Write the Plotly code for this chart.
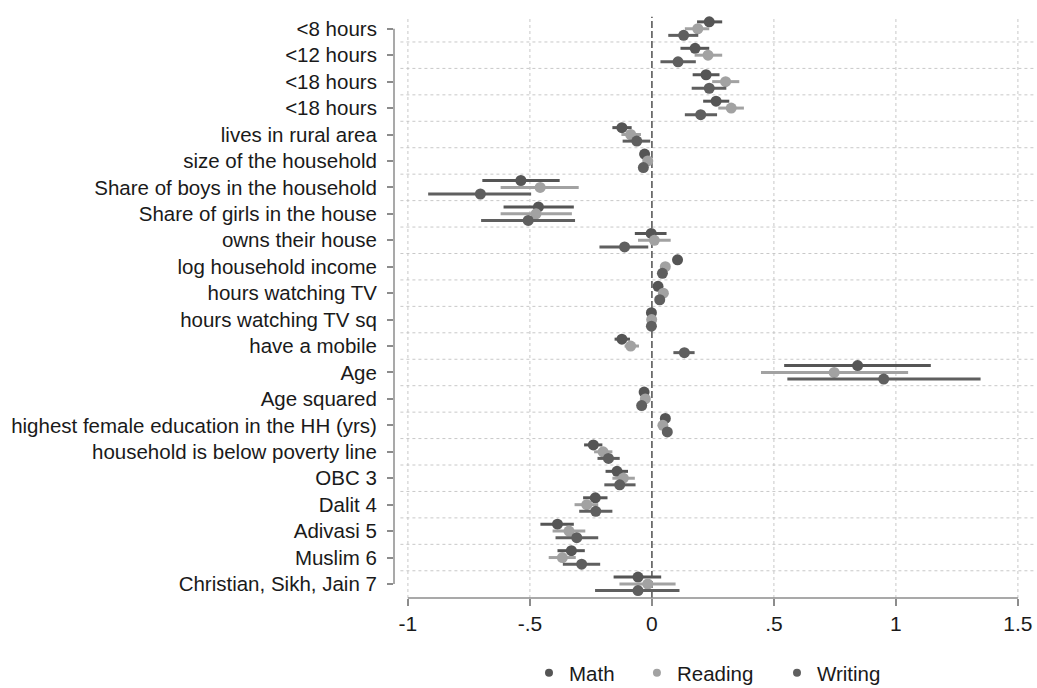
import plotly.graph_objects as go

categories = ["<8 hours", "<12 hours", "<18 hours", "<18 hours", "lives in rural area",
              "size of the household", "Share of boys in the household",
              "Share of girls in the house", "owns their house", "log household income",
              "hours watching TV", "hours watching TV sq", "have a mobile", "Age",
              "Age squared", "highest female education in the HH (yrs)",
              "household is below poverty line", "OBC 3", "Dalit 4", "Adivasi 5",
              "Muslim 6", "Christian, Sikh, Jain 7"]

math_coef = [0.235, 0.177, 0.222, 0.263, -0.123, -0.030, -0.537, -0.465, -0.003, 0.105,
             0.025, -0.002, -0.123, 0.843, -0.032, 0.055, -0.240, -0.143, -0.232, -0.387,
             -0.330, -0.057]
math_lo = [0.185, 0.117, 0.167, 0.210, -0.162, -0.040, -0.695, -0.608, -0.070, 0.095,
           0.015, -0.006, -0.153, 0.542, -0.042, 0.045, -0.278, -0.190, -0.282, -0.457,
           -0.387, -0.157]
math_hi = [0.288, 0.235, 0.277, 0.317, -0.083, -0.020, -0.378, -0.320, 0.060, 0.115,
           0.035, 0.002, -0.090, 1.143, -0.022, 0.065, -0.203, -0.098, -0.182, -0.320,
           -0.275, 0.038]

read_coef = [0.188, 0.230, 0.302, 0.325, -0.087, -0.017, -0.458, -0.475, 0.010, 0.055,
             0.047, -0.001, -0.087, 0.747, -0.027, 0.045, -0.200, -0.117, -0.267, -0.340,
             -0.367, -0.017]
read_lo = [0.135, 0.175, 0.247, 0.272, -0.125, -0.027, -0.620, -0.620, -0.057, 0.045,
           0.037, -0.005, -0.112, 0.447, -0.037, 0.035, -0.237, -0.162, -0.317, -0.407,
           -0.423, -0.133]
read_hi = [0.235, 0.288, 0.358, 0.377, -0.045, -0.007, -0.300, -0.328, 0.077, 0.065,
           0.057, 0.003, -0.053, 1.050, -0.017, 0.055, -0.162, -0.070, -0.220, -0.273,
           -0.312, 0.097]

write_coef = [0.130, 0.107, 0.235, 0.200, -0.062, -0.035, -0.703, -0.507, -0.112, 0.043,
              0.032, -0.002, 0.133, 0.950, -0.042, 0.063, -0.178, -0.132, -0.230, -0.308,
              -0.288, -0.057]
write_lo = [0.067, 0.035, 0.163, 0.135, -0.120, -0.045, -0.917, -0.700, -0.215, 0.033,
            0.022, -0.006, 0.088, 0.555, -0.052, 0.053, -0.223, -0.195, -0.298, -0.395,
            -0.365, -0.233]
write_hi = [0.190, 0.180, 0.305, 0.267, -0.007, -0.025, -0.495, -0.315, -0.015, 0.053,
            0.042, 0.002, 0.175, 1.347, -0.032, 0.073, -0.132, -0.067, -0.162, -0.220,
            -0.212, 0.113]

x_ticks = [-1, -0.5, 0, 0.5, 1, 1.5]
x_tick_labels = ["-1", "-.5", "0", ".5", "1", "1.5"]

series = [
    ("Math", math_coef, math_lo, math_hi, "#555555", -0.26, "legend", 0.2106),
    ("Reading", read_coef, read_lo, read_hi, "#a2a2a2", 0.0, "legend2", 0.379),
    ("Writing", write_coef, write_lo, write_hi, "#5f5f5f", 0.25, "legend3", 0.5975),
]

FONT = "Liberation Sans, Arial, Helvetica, sans-serif"
TXT = "#1a1a1a"
n = len(categories)
pos = list(range(n))

fig = go.Figure()
legend_layouts = {}
for name, coef, lo, hi, color, off, lg, lgx in series:
    fig.add_trace(go.Scatter(
        x=coef,
        y=[p + off for p in pos],
        mode="markers",
        name=name,
        showlegend=False,
        marker=dict(color=color, size=11, line=dict(width=0)),
        error_x=dict(type="data", symmetric=False,
                     array=[h - c for h, c in zip(hi, coef)],
                     arrayminus=[c - l for c, l in zip(coef, lo)],
                     color=color, thickness=3, width=0),
    ))
    # legend entry (smaller symbol as in the original)
    fig.add_trace(go.Scatter(
        x=[None], y=[None], mode="markers", name=name, legend=lg, showlegend=True,
        marker=dict(color=color, size=8, line=dict(width=0)),
    ))
    legend_layouts[lg] = dict(orientation="h", x=lgx, xanchor="left", y=-0.1286,
                              yanchor="middle", bgcolor="rgba(0,0,0,0)",
                              font=dict(size=20.5, color=TXT, family=FONT))

shapes = []
# horizontal dotted grid between categories
for k in range(n - 1):
    shapes.append(dict(type="line", xref="paper", x0=0.01, x1=1, yref="y", y0=k + 0.5, y1=k + 0.5,
                       line=dict(color="#c8c8c8", width=1, dash="dot"), layer="below"))
# vertical dotted grid
for v in x_ticks:
    if v != 0:
        shapes.append(dict(type="line", xref="x", x0=v, x1=v, yref="paper", y0=0, y1=0.997,
                           line=dict(color="#c8c8c8", width=1, dash="dot"), layer="below"))
# zero reference line
shapes.append(dict(type="line", xref="x", x0=0, x1=0, yref="paper", y0=0, y1=0.997,
                   line=dict(color="#5a5a5a", width=1.6, dash="7px,3px"), layer="below"))
# axis lines (Stata style, spanning only the ticks)
shapes.append(dict(type="line", xref="x", x0=-1, x1=1.5, yref="paper", y0=0, y1=0,
                   line=dict(color="#8c8c8c", width=1.5)))
shapes.append(dict(type="line", xref="paper", x0=0, x1=0, yref="y", y0=0, y1=n - 1,
                   line=dict(color="#8c8c8c", width=1.5)))

fig.update_layout(
    width=1037, height=688,
    paper_bgcolor="white", plot_bgcolor="white",
    margin=dict(l=394, r=2, t=15, b=90, autoexpand=False),
    font=dict(family=FONT, size=20.5, color=TXT),
    showlegend=True,
    shapes=shapes,
    **legend_layouts,
)
fig.update_xaxes(range=[-1.057, 1.57], tickvals=x_ticks, ticktext=x_tick_labels,
                 showgrid=False, zeroline=False, showline=False,
                 ticks="outside", ticklen=7, tickcolor="#8c8c8c", tickwidth=1.5,
                 automargin=False,
                 tickfont=dict(size=21, family=FONT, color=TXT))
fig.update_yaxes(range=[21.53, -0.52], tickvals=pos, ticktext=categories,
                 showgrid=False, zeroline=False, showline=False,
                 ticks="outside", ticklen=6, tickcolor="#8c8c8c", tickwidth=1.5,
                 ticklabelstandoff=6, automargin=False,
                 tickfont=dict(size=20.5, family=FONT, color=TXT))

fig.write_html("out.html")
